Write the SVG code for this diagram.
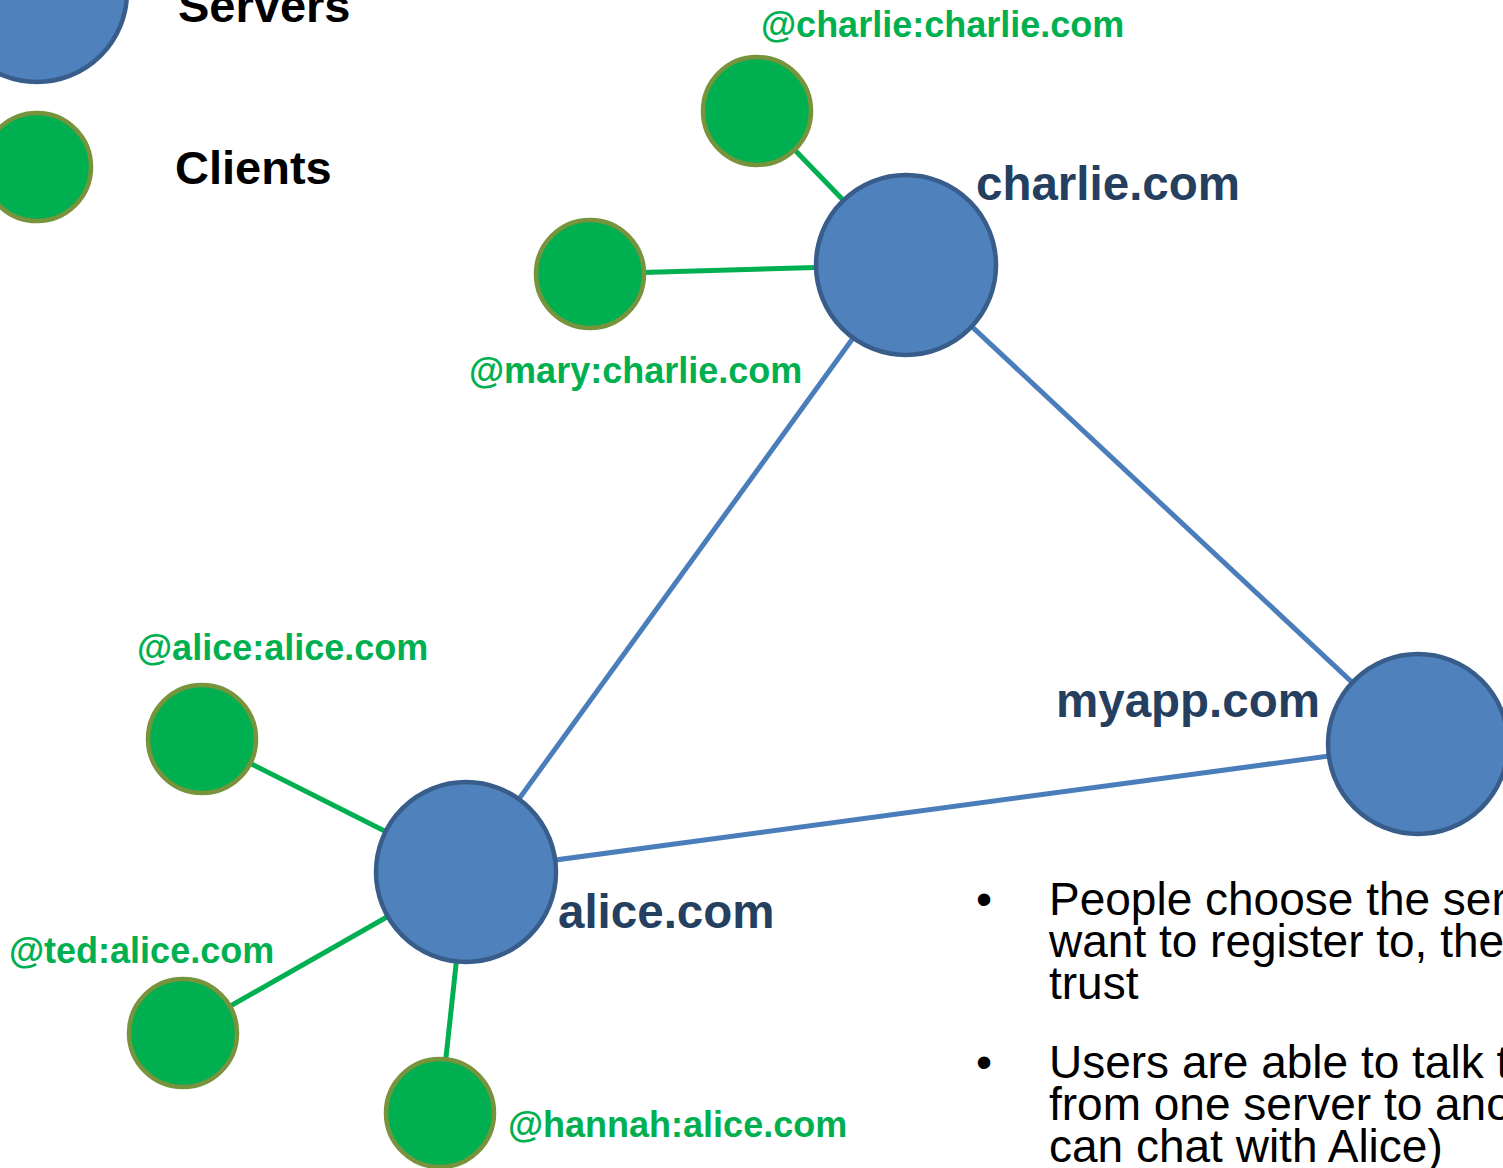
<svg xmlns="http://www.w3.org/2000/svg" width="1503" height="1168" viewBox="0 0 1503 1168">
<style>
.server{fill:#4f81bd;stroke:#385d8a;stroke-width:4.5}
.client{fill:#00b050;stroke:#77933c;stroke-width:4.5}
.fed{stroke:#4a7ebb;stroke-width:5;fill:none}
.cl{stroke:#00b050;stroke-width:5;fill:none}
.legend{font-family:"Liberation Sans",Arial,sans-serif;font-weight:bold;font-size:47px;fill:#000}
.sname{font-family:"Liberation Sans",Arial,sans-serif;font-weight:bold;font-size:47.5px;fill:#243f60}
.uname{font-family:"Liberation Sans",Arial,sans-serif;font-weight:bold;font-size:36px;fill:#00b050}
.body{font-family:"Liberation Sans",Arial,sans-serif;font-size:46px;fill:#000}
</style>
<rect width="1503" height="1168" fill="#fff"/>
<g id="connectors">
<line class="fed" x1="466" y1="872" x2="906" y2="265"/>
<line class="fed" x1="906" y1="265" x2="1418" y2="744"/>
<line class="fed" x1="466" y1="872" x2="1418" y2="744"/>
<line class="cl" x1="757" y1="111" x2="906" y2="265"/>
<line class="cl" x1="590" y1="274" x2="906" y2="265"/>
<line class="cl" x1="202" y1="739" x2="466" y2="872"/>
<line class="cl" x1="183" y1="1033" x2="466" y2="872"/>
<line class="cl" x1="440" y1="1113" x2="466" y2="872"/>
</g>
<g id="legend-servers">
<circle class="server" cx="37" cy="-8" r="90"/>
<text class="legend" x="178" y="22">Servers</text>
</g>
<g id="legend-clients">
<circle class="client" cx="37" cy="167" r="54"/>
<text class="legend" x="175" y="184">Clients</text>
</g>
<g id="charlie-server">
<circle class="server" cx="906" cy="265" r="90"/>
<text class="sname" x="976" y="200">charlie.com</text>
</g>
<g id="alice-server">
<circle class="server" cx="466" cy="872" r="90"/>
<text class="sname" x="558" y="928">alice.com</text>
</g>
<g id="myapp-server">
<circle class="server" cx="1418" cy="744" r="90"/>
<text class="sname" x="1056" y="717">myapp.com</text>
</g>
<g id="charlie-client">
<circle class="client" cx="757" cy="111" r="54"/>
<text class="uname" x="761" y="37">@charlie:charlie.com</text>
</g>
<g id="mary-client">
<circle class="client" cx="590" cy="274" r="54"/>
<text class="uname" x="469" y="383">@mary:charlie.com</text>
</g>
<g id="alice-client">
<circle class="client" cx="202" cy="739" r="54"/>
<text class="uname" x="137" y="660">@alice:alice.com</text>
</g>
<g id="ted-client">
<circle class="client" cx="183" cy="1033" r="54"/>
<text class="uname" x="9" y="963">@ted:alice.com</text>
</g>
<g id="hannah-client">
<circle class="client" cx="440" cy="1113" r="54"/>
<text class="uname" x="508" y="1137">@hannah:alice.com</text>
</g>
<g id="notes">
<text class="body" x="976" y="915">•</text>
<text class="body" x="1049" y="915">People choose the ser</text>
<text class="body" x="1049" y="957">want to register to, the</text>
<text class="body" x="1049" y="999">trust</text>
<text class="body" x="976" y="1078">•</text>
<text class="body" x="1049" y="1078">Users are able to talk t</text>
<text class="body" x="1049" y="1120">from one server to ano</text>
<text class="body" x="1049" y="1162">can chat with Alice)</text>
</g>
</svg>
